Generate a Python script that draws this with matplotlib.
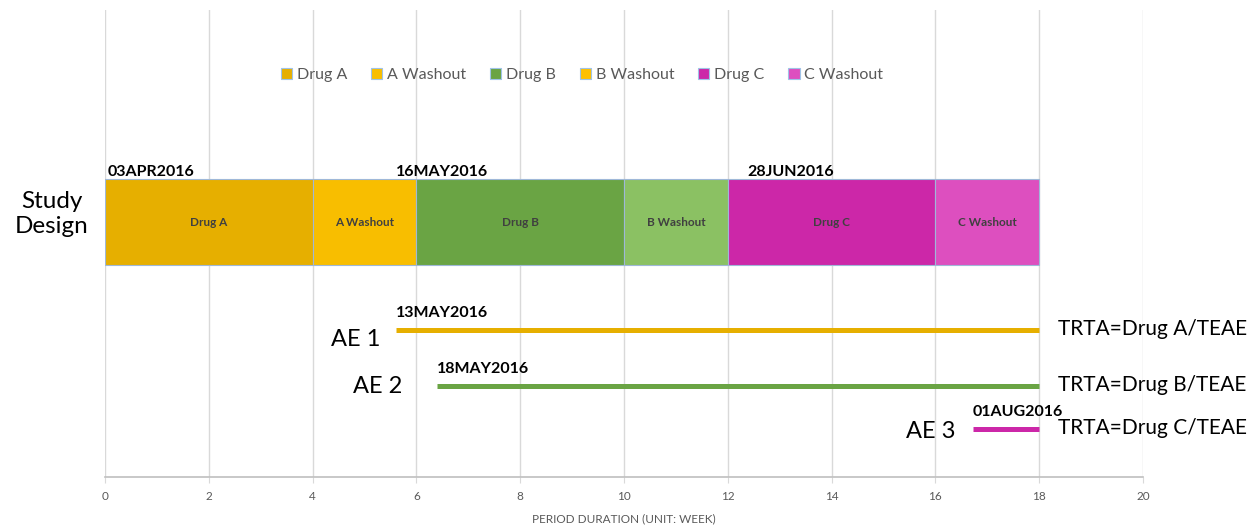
import matplotlib.pyplot as plt
from matplotlib.patches import Patch

# study design phases (weeks)
phases = ['Drug A', 'A Washout', 'Drug B', 'B Washout', 'Drug C', 'C Washout']
phase_start = [0, 4, 6, 10, 12, 16]
phase_len = [4, 2, 4, 2, 4, 2]
phase_col = ['#E6AF00', '#F8BE00', '#6AA444', '#8BC163', '#CC27A8', '#DD4FBF']
legend_col = ['#E6AF00', '#F8BE00', '#6AA444', '#FFC000', '#CC27A8', '#DD4FBF']

design_dates = ['03APR2016', '16MAY2016', '28JUN2016']
design_date_x = [0.05, 5.6, 12.37]

# adverse events
ae_names = ['AE 1', 'AE 2', 'AE 3']
ae_start = [5.6, 6.4, 16.72]
ae_end = [18, 18, 18]
ae_dates = ['13MAY2016', '18MAY2016', '01AUG2016']
ae_trta = ['TRTA=Drug A/TEAE', 'TRTA=Drug B/TEAE', 'TRTA=Drug C/TEAE']
ae_col = ['#E6AF00', '#6AA444', '#CC27A8']

xticks = list(range(0, 21, 2))

# layout (row centres, in the same units as ylim)
design_y = 2.22
ae_y = [3.30, 3.86, 4.29]
ae_name_x = [5.30, 5.72, 16.38]
ae_name_dy = [0.10, 0.01, 0.03]

fn = 'Lato'
grey = '#595959'

fig = plt.figure(figsize=(12.49, 5.27), dpi=100)
ax = fig.add_axes([105/1249, 50/527, 1038/1249, 467/527])
ax.set_xlim(0, 20)
ax.set_ylim(4.77, 0.10)

ax.set_xticks(xticks)
ax.set_xticklabels([str(t) for t in xticks], fontname=fn, fontsize=8.5, color=grey)
ax.tick_params(axis='x', length=4, color='#d9d9d9', pad=6)
ax.set_yticks([])
ax.grid(axis='x', color='#d9d9d9', lw=1)
ax.set_axisbelow(True)
for s in ['top', 'right', 'left']:
    ax.spines[s].set_visible(False)
ax.spines['bottom'].set_color('#bfbfbf')
ax.spines['bottom'].set_linewidth(1.2)
ax.set_xlabel('PERIOD DURATION (UNIT: WEEK)', fontname=fn, fontsize=8.5, color=grey, labelpad=8)

ax.barh([design_y]*len(phases), phase_len, left=phase_start, height=0.86,
        color=phase_col, edgecolor='#9fb8d8', lw=0.8)
for p, s, l in zip(phases, phase_start, phase_len):
    ax.text(s + l/2, design_y, p, ha='center', va='center', fontname=fn,
            fontweight='bold', fontsize=8.5, color='#404040')

for d, x in zip(design_dates, design_date_x):
    ax.text(x, design_y - 0.50, d, ha='left', va='center', fontname=fn,
            fontweight='bold', fontsize=11.5, color='black')

ax.text(-1.03, design_y - 0.08, 'Study\nDesign', ha='center', va='center', fontname=fn,
        fontsize=17.5, color='black', linespacing=1.2, clip_on=False)

for i in range(len(ae_names)):
    ax.plot([ae_start[i], ae_end[i]], [ae_y[i], ae_y[i]], color=ae_col[i], lw=3.6,
            solid_capstyle='butt')
    ax.text(ae_start[i], ae_y[i] - 0.17, ae_dates[i], ha='left', va='center',
            fontname=fn, fontweight='bold', fontsize=11.5, color='black')
    ax.text(ae_name_x[i], ae_y[i] + ae_name_dy[i], ae_names[i], ha='right', va='center',
            fontname=fn, fontsize=17, color='black')
    ax.text(18.37, ae_y[i] - 0.01, ae_trta[i], ha='left', va='center',
            fontname=fn, fontsize=15, color='black', clip_on=False)

handles = [Patch(facecolor=c, edgecolor='#9fc3e7', lw=0.8) for c in legend_col]
leg = ax.legend(handles, phases, loc='center', bbox_to_anchor=(582/1249, 1 - 75/527),
                bbox_transform=fig.transFigure, ncol=6, frameon=False,
                handlelength=0.7, handleheight=0.7, handletextpad=0.3,
                columnspacing=1.5, prop={'family': fn, 'size': 11.5})
for t in leg.get_texts():
    t.set_color(grey)

fig.savefig('out.png', dpi=100)
